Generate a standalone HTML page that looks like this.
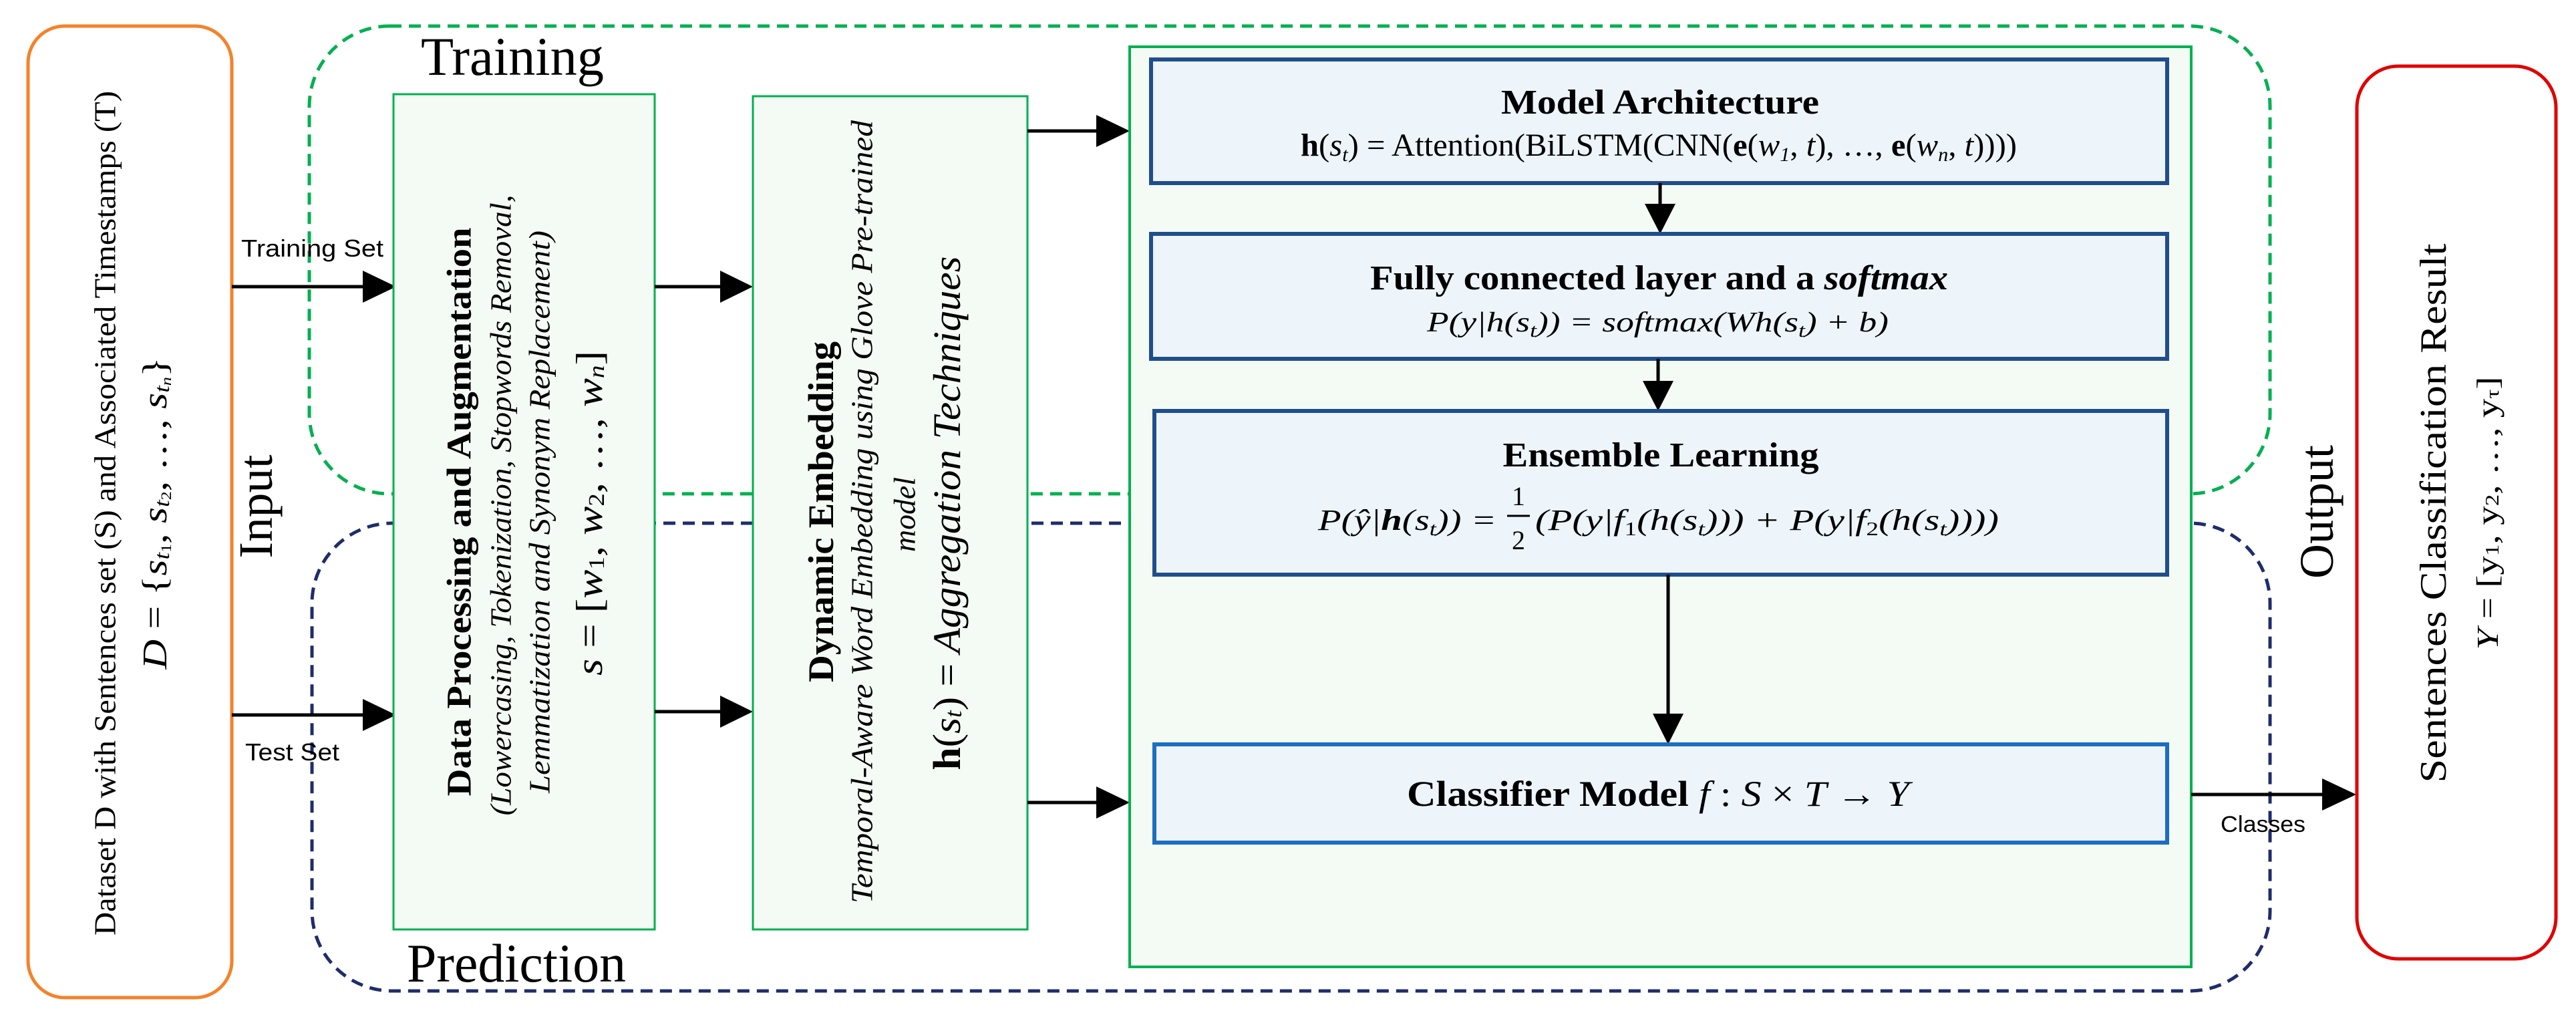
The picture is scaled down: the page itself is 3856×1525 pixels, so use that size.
<!DOCTYPE html>
<html><head><meta charset="utf-8"><style>
html,body{margin:0;padding:0;background:#fff;}
svg{display:block;}
text{font-family:"Liberation Serif",serif;fill:#000;}
.sans{font-family:"Liberation Sans",sans-serif;}
</style></head><body>
<svg width="3856" height="1525" viewBox="0 0 3856 1525" xmlns="http://www.w3.org/2000/svg">
<!-- dashed regions -->
<rect x="463" y="39" width="2935" height="700" rx="120" ry="120" fill="none" stroke="#00b050" stroke-width="5" stroke-dasharray="18,11"/>
<rect x="467" y="783" width="2931" height="700" rx="120" ry="120" fill="none" stroke="#1f2d6b" stroke-width="5" stroke-dasharray="18,11"/>

<!-- orange input box -->
<rect x="42" y="39" width="305" height="1454" rx="55" ry="55" fill="#fff" stroke="#f5822a" stroke-width="5"/>
<text transform="translate(157,768) rotate(-90)" text-anchor="middle" dominant-baseline="central" font-size="46" textLength="1264" lengthAdjust="spacingAndGlyphs">Dataset D with Sentences set (S) and Associated Timestamps (T)</text>
<text transform="translate(232,768) rotate(-90)" text-anchor="middle" dominant-baseline="central" font-size="52" textLength="467" lengthAdjust="spacingAndGlyphs"><tspan font-style="italic">D</tspan> = {<tspan font-style="italic">s</tspan><tspan font-size="32" dy="10" font-style="italic">t</tspan><tspan font-size="22" dy="6">1</tspan><tspan dy="-16">, </tspan><tspan font-style="italic">s</tspan><tspan font-size="32" dy="10" font-style="italic">t</tspan><tspan font-size="22" dy="6">2</tspan><tspan dy="-16">, …, </tspan><tspan font-style="italic">s</tspan><tspan font-size="32" dy="10" font-style="italic">t</tspan><tspan font-size="22" dy="6" font-style="italic">n</tspan><tspan dy="-16">}</tspan></text>

<!-- Labels -->
<text x="630" y="112" font-size="82" textLength="274" lengthAdjust="spacingAndGlyphs">Training</text>
<text x="609" y="1469" font-size="82" textLength="328" lengthAdjust="spacingAndGlyphs">Prediction</text>
<text transform="translate(383,758) rotate(-90)" text-anchor="middle" dominant-baseline="central" font-size="72" textLength="155" lengthAdjust="spacingAndGlyphs">Input</text>
<text transform="translate(3468,766) rotate(-90)" text-anchor="middle" dominant-baseline="central" font-size="72" textLength="200" lengthAdjust="spacingAndGlyphs">Output</text>

<!-- arrows from input -->
<line x1="347" y1="429" x2="550" y2="429" stroke="#000" stroke-width="5"/>
<polygon points="543,405 593,429 543,453" fill="#000"/>
<line x1="347" y1="1070" x2="550" y2="1070" stroke="#000" stroke-width="5"/>
<polygon points="543,1046 593,1070 543,1094" fill="#000"/>
<text class="sans" x="361" y="384" font-size="36" textLength="213" lengthAdjust="spacingAndGlyphs">Training Set</text>
<text class="sans" x="367" y="1138" font-size="36" textLength="141" lengthAdjust="spacingAndGlyphs">Test Set</text>

<!-- Box1 -->
<rect x="589" y="141" width="391" height="1250" fill="#f4faf4" stroke="#00b050" stroke-width="3"/>
<text transform="translate(688,766) rotate(-90)" text-anchor="middle" dominant-baseline="central" font-size="52" font-weight="bold" textLength="851" lengthAdjust="spacingAndGlyphs">Data Processing and Augmentation</text>
<text transform="translate(750,756) rotate(-90)" text-anchor="middle" dominant-baseline="central" font-size="44" font-style="italic" textLength="929" lengthAdjust="spacingAndGlyphs">(Lowercasing, Tokenization, Stopwords Removal,</text>
<text transform="translate(808,766) rotate(-90)" text-anchor="middle" dominant-baseline="central" font-size="44" font-style="italic" textLength="842" lengthAdjust="spacingAndGlyphs">Lemmatization and Synonym Replacement)</text>
<text transform="translate(883,768) rotate(-90)" text-anchor="middle" dominant-baseline="central" font-size="56" textLength="486" lengthAdjust="spacingAndGlyphs"><tspan font-style="italic">s</tspan> = [<tspan font-style="italic">w</tspan><tspan font-size="34" dy="10">1</tspan><tspan dy="-10">, </tspan><tspan font-style="italic">w</tspan><tspan font-size="34" dy="10">2</tspan><tspan dy="-10">, …, </tspan><tspan font-style="italic">w</tspan><tspan font-size="34" dy="10" font-style="italic">n</tspan><tspan dy="-10">]</tspan></text>

<!-- arrows box1->box2 -->
<line x1="980" y1="429" x2="1085" y2="429" stroke="#000" stroke-width="5"/>
<polygon points="1078,405 1127,429 1078,453" fill="#000"/>
<line x1="980" y1="1065" x2="1085" y2="1065" stroke="#000" stroke-width="5"/>
<polygon points="1078,1041 1127,1065 1078,1089" fill="#000"/>

<!-- Box2 -->
<rect x="1127" y="144" width="411" height="1247" fill="#f4faf4" stroke="#00b050" stroke-width="3"/>
<text transform="translate(1229,766) rotate(-90)" text-anchor="middle" dominant-baseline="central" font-size="54" font-weight="bold" textLength="510" lengthAdjust="spacingAndGlyphs">Dynamic Embedding</text>
<text transform="translate(1290,766) rotate(-90)" text-anchor="middle" dominant-baseline="central" font-size="46" font-style="italic" textLength="1172" lengthAdjust="spacingAndGlyphs">Temporal-Aware Word Embedding using Glove Pre-trained</text>
<text transform="translate(1354,770) rotate(-90)" text-anchor="middle" dominant-baseline="central" font-size="46" font-style="italic" textLength="112" lengthAdjust="spacingAndGlyphs">model</text>
<text transform="translate(1417,768) rotate(-90)" text-anchor="middle" dominant-baseline="central" font-size="58" textLength="769" lengthAdjust="spacingAndGlyphs"><tspan font-weight="bold">h</tspan>(<tspan font-style="italic">s</tspan><tspan font-size="36" dy="10" font-style="italic">t</tspan><tspan dy="-10">) = </tspan><tspan font-style="italic">Aggregation Techniques</tspan></text>

<!-- arrows box2->big -->
<line x1="1538" y1="196" x2="1645" y2="196" stroke="#000" stroke-width="5"/>
<polygon points="1641,172 1691,196 1641,220" fill="#000"/>
<line x1="1538" y1="1201" x2="1645" y2="1201" stroke="#000" stroke-width="5"/>
<polygon points="1641,1177 1691,1201 1641,1225" fill="#000"/>

<!-- Big box -->
<rect x="1691" y="70" width="1589" height="1377" fill="#f4faf4" stroke="#00b050" stroke-width="4"/>

<!-- inner boxes -->
<rect x="1723" y="89" width="1521" height="185" fill="#edf4fa" stroke="#1f4e8c" stroke-width="6"/>
<text x="2485" y="170" text-anchor="middle" font-size="52" font-weight="bold" textLength="476" lengthAdjust="spacingAndGlyphs">Model Architecture</text>
<text x="1947" y="233" font-size="48" textLength="1072" lengthAdjust="spacingAndGlyphs"><tspan font-weight="bold">h</tspan>(<tspan font-style="italic">s</tspan><tspan font-size="30" dy="8" font-style="italic">t</tspan><tspan dy="-8">) = Attention(BiLSTM(CNN(</tspan><tspan font-weight="bold">e</tspan>(<tspan font-style="italic">w</tspan><tspan font-size="30" dy="8" font-style="italic">1</tspan><tspan dy="-8">, </tspan><tspan font-style="italic">t</tspan>), …, <tspan font-weight="bold">e</tspan>(<tspan font-style="italic">w</tspan><tspan font-size="30" dy="8" font-style="italic">n</tspan><tspan dy="-8">, </tspan><tspan font-style="italic">t</tspan>))))</text>

<line x1="2485" y1="274" x2="2485" y2="310" stroke="#000" stroke-width="5"/>
<polygon points="2462,305 2508,305 2485,350" fill="#000"/>

<rect x="1723" y="350" width="1521" height="187" fill="#edf4fa" stroke="#1f4e8c" stroke-width="6"/>
<text x="2051" y="433" font-size="52" font-weight="bold" textLength="865" lengthAdjust="spacingAndGlyphs">Fully connected layer and a <tspan font-style="italic">softmax</tspan></text>
<text x="2136" y="496" font-size="42" font-style="italic" textLength="691" lengthAdjust="spacingAndGlyphs">P(y|h(s<tspan font-size="28" dy="8">t</tspan><tspan dy="-8">)) = softmax(Wh(s</tspan><tspan font-size="28" dy="8">t</tspan><tspan dy="-8">) + b)</tspan></text>

<line x1="2482" y1="537" x2="2482" y2="572" stroke="#000" stroke-width="5"/>
<polygon points="2459,570 2505,570 2482,615" fill="#000"/>

<rect x="1728" y="615" width="1516" height="245" fill="#edf4fa" stroke="#1f4e8c" stroke-width="6"/>
<text x="2486" y="698" text-anchor="middle" font-size="52" font-weight="bold" textLength="473" lengthAdjust="spacingAndGlyphs">Ensemble Learning</text>
<text x="2240" y="793" text-anchor="end" font-size="44" font-style="italic" textLength="267" lengthAdjust="spacingAndGlyphs">P(ŷ|<tspan font-weight="bold">h</tspan>(s<tspan font-size="28" dy="8">t</tspan><tspan dy="-8">)) =</tspan></text>
<text x="2273" y="756" text-anchor="middle" font-size="40">1</text>
<line x1="2256" y1="772" x2="2290" y2="772" stroke="#000" stroke-width="3"/>
<text x="2273" y="822" text-anchor="middle" font-size="40">2</text>
<text x="2298" y="793" font-size="44" font-style="italic" textLength="694" lengthAdjust="spacingAndGlyphs">(P(y|f<tspan font-size="28" dy="8" font-style="normal">1</tspan><tspan dy="-8">(h(s</tspan><tspan font-size="28" dy="8">t</tspan><tspan dy="-8">))) + P(y|f</tspan><tspan font-size="28" dy="8" font-style="normal">2</tspan><tspan dy="-8">(h(s</tspan><tspan font-size="28" dy="8">t</tspan><tspan dy="-8">))))</tspan></text>

<line x1="2497" y1="860" x2="2497" y2="1070" stroke="#000" stroke-width="5"/>
<polygon points="2474,1068 2520,1068 2497,1114" fill="#000"/>

<rect x="1728" y="1114" width="1516" height="147" fill="#edf4fa" stroke="#1b6ec2" stroke-width="6"/>
<text x="2106" y="1206" font-size="54" textLength="752" lengthAdjust="spacingAndGlyphs"><tspan font-weight="bold">Classifier Model </tspan><tspan font-style="italic">f</tspan> : <tspan font-style="italic">S</tspan> × <tspan font-style="italic">T</tspan> → <tspan font-style="italic">Y</tspan></text>

<!-- output arrow -->
<line x1="3280" y1="1189" x2="3480" y2="1189" stroke="#000" stroke-width="5"/>
<polygon points="3476,1165 3527,1189 3476,1213" fill="#000"/>
<text class="sans" x="3324" y="1245" font-size="34" textLength="127" lengthAdjust="spacingAndGlyphs">Classes</text>

<!-- red output box -->
<rect x="3528" y="99" width="298" height="1336" rx="62" ry="62" fill="#fff" stroke="#e00000" stroke-width="5"/>
<text transform="translate(3643,768) rotate(-90)" text-anchor="middle" dominant-baseline="central" font-size="56" textLength="807" lengthAdjust="spacingAndGlyphs">Sentences Classification Result</text>
<text transform="translate(3723,768) rotate(-90)" text-anchor="middle" dominant-baseline="central" font-size="46" textLength="409" lengthAdjust="spacingAndGlyphs"><tspan font-style="italic">Y</tspan> = [y<tspan font-size="28" dy="8">1</tspan><tspan dy="-8">, y</tspan><tspan font-size="28" dy="8">2</tspan><tspan dy="-8">, …, y</tspan><tspan font-size="28" dy="8">τ</tspan><tspan dy="-8">]</tspan></text>
</svg>
</body></html>
